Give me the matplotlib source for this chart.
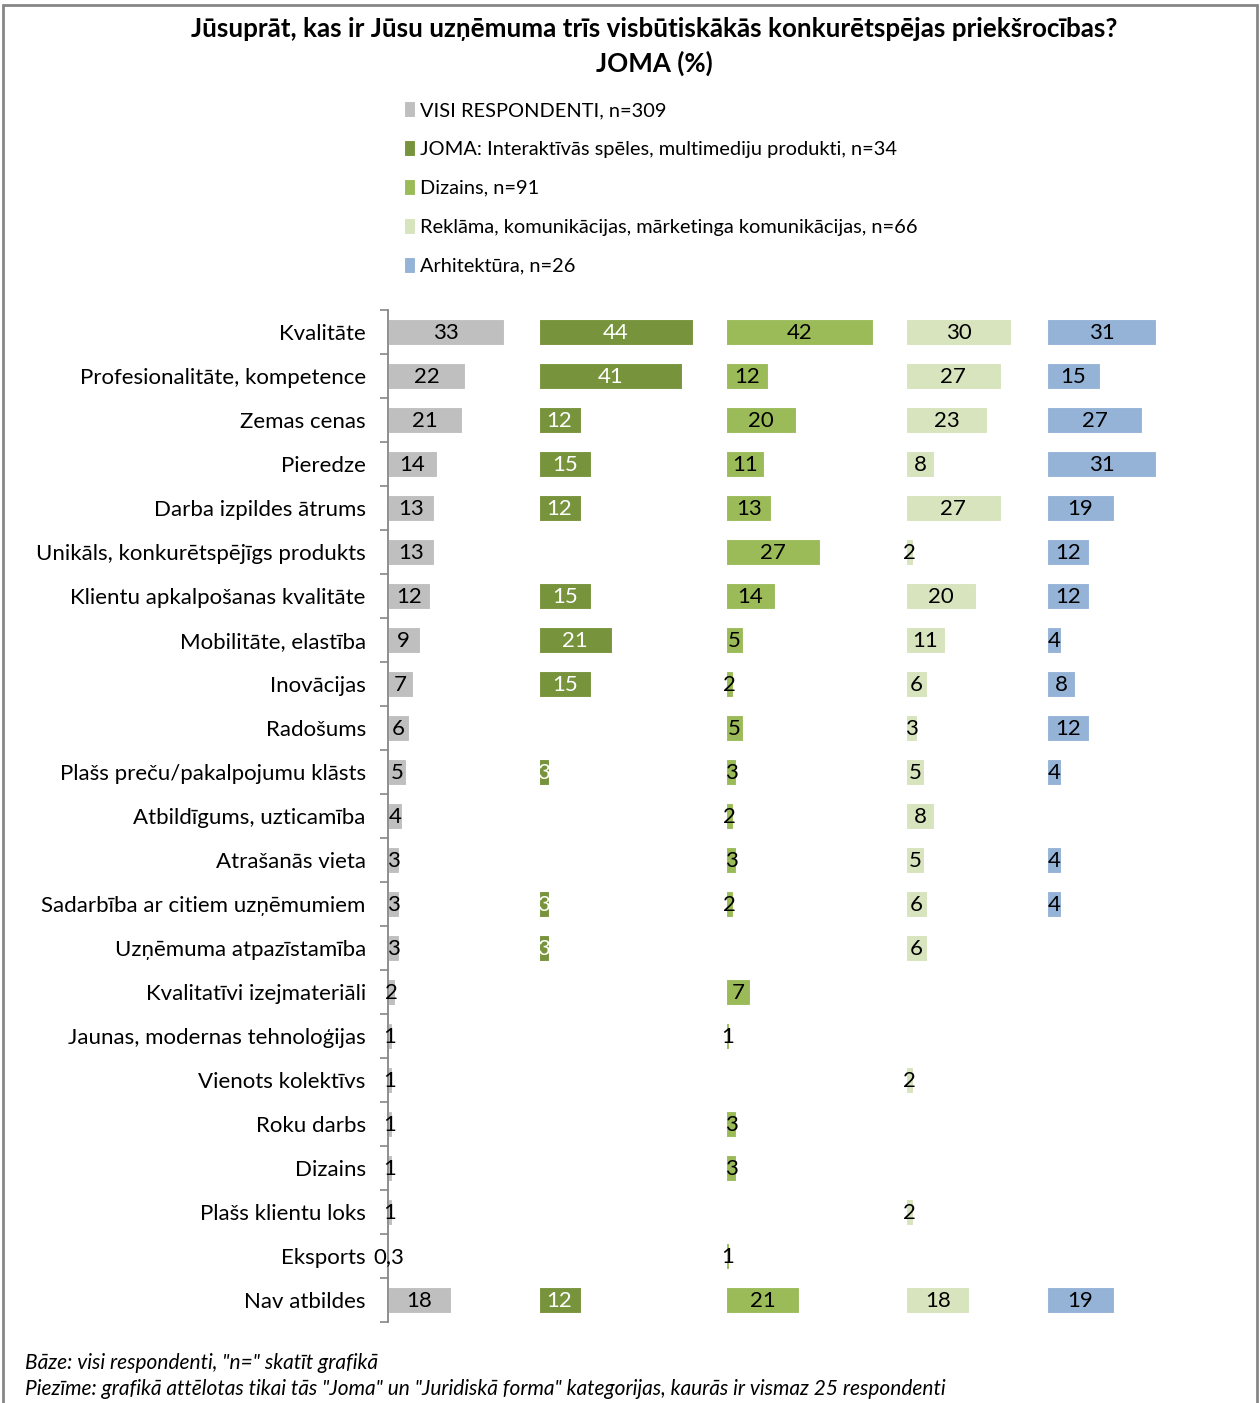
#!/usr/bin/env python3
# -*- coding: utf-8 -*-
"""Konkurētspējas priekšrocības pa jomām: horizontālas joslas piecos blokos."""

import numpy as np
import matplotlib
matplotlib.use("Agg")
import matplotlib.pyplot as plt
from matplotlib.patches import Rectangle

plt.rcParams['font.family'] = ['Lato', 'DejaVu Sans']

# --- dati ---
kategorijas = [
    "Kvalitāte", "Profesionalitāte, kompetence", "Zemas cenas", "Pieredze",
    "Darba izpildes ātrums", "Unikāls, konkurētspējīgs produkts",
    "Klientu apkalpošanas kvalitāte", "Mobilitāte, elastība", "Inovācijas",
    "Radošums", "Plašs preču/pakalpojumu klāsts", "Atbildīgums, uzticamība",
    "Atrašanās vieta", "Sadarbība ar citiem uzņēmumiem",
    "Uzņēmuma atpazīstamība", "Kvalitatīvi izejmateriāli",
    "Jaunas, modernas tehnoloģijas", "Vienots kolektīvs", "Roku darbs",
    "Dizains", "Plašs klientu loks", "Eksports", "Nav atbildes",
]
N = None
visi = [33, 22, 21, 14, 13, 13, 12, 9, 7, 6, 5, 4, 3, 3, 3, 2, 1, 1, 1, 1, 1, 0.3, 18]
interaktivas = [44, 41, 12, 15, 12, N, 15, 21, 15, N, 3, N, N, 3, 3, N, N, N, N, N, N, N, 12]
dizains = [42, 12, 20, 11, 13, 27, 14, 5, 2, 5, 3, 2, 3, 2, N, 7, 1, N, 3, 3, N, 1, 21]
reklama = [30, 27, 23, 8, 27, 2, 20, 11, 6, 3, 5, 8, 5, 6, 6, N, N, 2, N, N, 2, N, 18]
arhitektura = [31, 15, 27, 31, 19, 12, 12, 4, 8, 12, 4, N, 4, 4, N, N, N, N, N, N, N, N, 19]

serijas = [visi, interaktivas, dizains, reklama, arhitektura]
nosaukumi = [
    "VISI RESPONDENTI, n=309",
    "JOMA: Interaktīvās spēles, multimediju produkti, n=34",
    "Dizains, n=91",
    "Reklāma, komunikācijas, mārketinga komunikācijas, n=66",
    "Arhitektūra, n=26",
]
krasas = ["#BFBFBF", "#77933C", "#9BBB59", "#D7E4BD", "#95B3D7"]
teksta_krasas = ["black", "white", "black", "black", "black"]
nobides = [0, 43, 96.5, 148, 188.3]

fig = plt.figure(figsize=(12.6, 14.03), dpi=100)
W, H = 1260, 1403
ax = fig.add_axes([388 / W, 1 - 1322 / H, 870 / W, (1322 - 310) / H])

y = np.arange(len(kategorijas))
rokturi = []
for vals, kr, tk, off, nos in zip(serijas, krasas, teksta_krasas, nobides, nosaukumi):
    v = np.array([np.nan if x is None else x for x in vals], dtype=float)
    bars = ax.barh(y, v, left=off, height=0.57, color=kr, edgecolor="white",
                   linewidth=0.8, label=nos)
    rokturi.append(bars)
    for yi, val in zip(y, v):
        if np.isnan(val):
            continue
        txt = f"{val:g}".replace(".", ",")
        ax.text(off + val / 2, yi + 0.03, txt, ha="center", va="center",
                fontsize=16, color=tk)

ax.set_xlim(0, 248.5)
ax.set_ylim(len(kategorijas) - 0.5, -0.5)
ax.set_yticks(y)
ax.set_yticklabels(kategorijas, fontsize=16)
ax.set_yticks(np.arange(len(kategorijas) + 1) - 0.5, minor=True)
ax.tick_params(axis="y", which="major", length=0, pad=16)
ax.tick_params(axis="y", which="minor", length=6, width=1.2, color="#868686",
               direction="out")
ax.set_xticks([])
for s in ["top", "right", "bottom"]:
    ax.spines[s].set_visible(False)
ax.spines["left"].set_color("#868686")
ax.spines["left"].set_linewidth(1.3)
ax.patch.set_alpha(0)

# virsraksts
fig.text(654 / W, 1 - 29 / H, "Jūsuprāt, kas ir Jūsu uzņēmuma trīs visbūtiskākās konkurētspējas priekšrocības?",
         ha="center", va="center", fontsize=18.7, fontweight="bold")
fig.text(654 / W, 1 - 63 / H, "JOMA (%)", ha="center", va="center",
         fontsize=18.7, fontweight="bold")

# leģenda
fig.legend(handles=rokturi, labels=nosaukumi, loc="upper left",
           bbox_to_anchor=(396 / W, 1 - 93 / H), frameon=False, fontsize=14.4,
           handlelength=0.55, handleheight=0.85, handletextpad=0.25,
           labelspacing=1.05, borderaxespad=0)

# piezīmes
fig.text(25 / W, 1 - 1363 / H, 'Bāze: visi respondenti, "n=" skatīt grafikā',
         ha="left", va="center", fontsize=15, style="italic")
fig.text(25 / W, 1 - 1389 / H,
         'Piezīme: grafikā attēlotas tikai tās "Joma" un "Juridiskā forma" kategorijas, kaurās ir vismaz 25 respondenti',
         ha="left", va="center", fontsize=15, style="italic")

# rāmis
fig.patches.append(Rectangle((3 / W, -0.01), 1254 / W, 1.01 - 5 / H,
                             transform=fig.transFigure, fill=False,
                             edgecolor="#868686", linewidth=2))

fig.savefig("out.png", dpi=100)
